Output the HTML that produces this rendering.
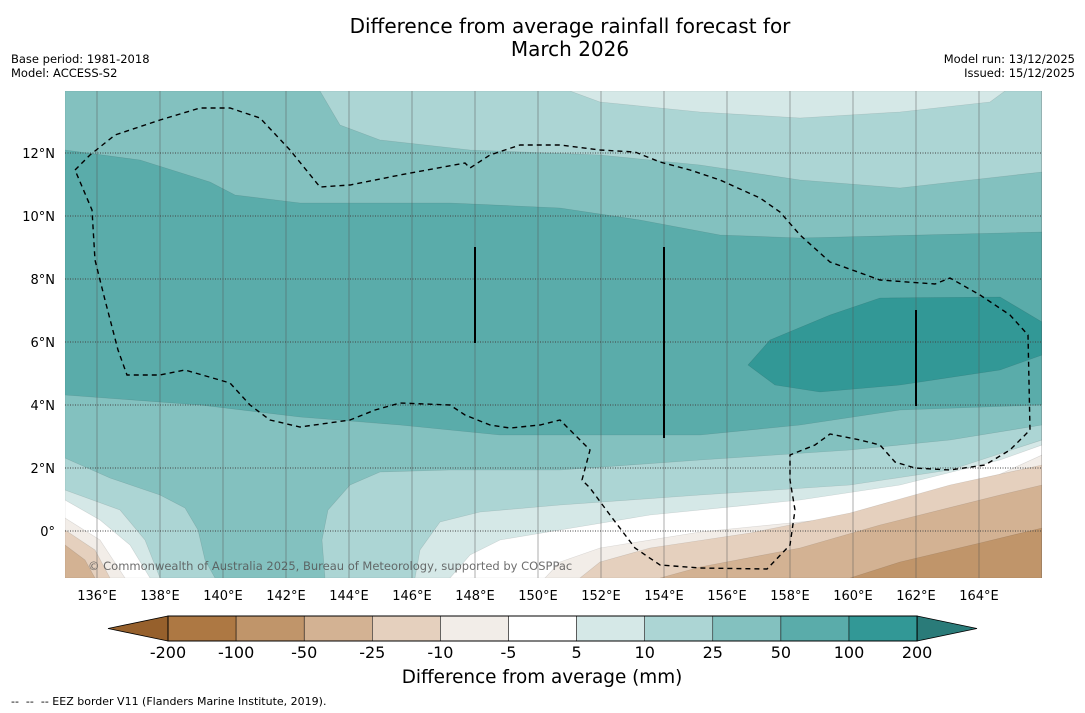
<!DOCTYPE html>
<html><head><meta charset="utf-8"><style>
body{margin:0;background:#fff;font-family:"Liberation Sans","DejaVu Sans",sans-serif;}
#w{position:relative;width:1085px;height:713px;overflow:hidden;}
.t{position:absolute;white-space:nowrap;}
</style></head><body>
<div id="w">
<div class="t" style="left:220px;width:700px;top:15px;text-align:center;font-family:'DejaVu Sans',sans-serif;font-size:20px;line-height:23px;">Difference from average rainfall forecast for<br>March 2026</div>
<div class="t" style="left:11px;top:52px;font-size:11.5px;line-height:14px;font-family:'DejaVu Sans',sans-serif">Base period: 1981-2018<br>Model: ACCESS-S2</div>
<div class="t" style="right:10px;top:52px;font-size:11.5px;line-height:14px;text-align:right;font-family:'DejaVu Sans',sans-serif">Model run: 13/12/2025<br>Issued: 15/12/2025</div>
<svg id="s" width="1085" height="713" style="position:absolute;left:0;top:0">
<defs><clipPath id="c"><rect x="65" y="91" width="977" height="487"/></clipPath></defs>
<g id="map" clip-path="url(#c)"></g>
<g id="cb"></g>
</svg>
<div class="t" style="left:292px;width:500px;text-align:center;top:667px;font-size:18.4px;font-family:'DejaVu Sans',sans-serif">Difference from average (mm)</div>
<div class="t" style="left:11px;top:695px;font-size:11px;font-family:'DejaVu Sans',sans-serif;white-space:pre">--  --  -- EEZ border V11 (Flanders Marine Institute, 2019).</div>
</div>
<script>
const NS="http://www.w3.org/2000/svg";
const levels=["-200","-100","-50","-25","-10","-5","5","10","25","50","100","200"];
const colors=["#ad7843","#c0956a","#d3b293","#e5d0be","#f2ede8","#ffffff","#d5e8e7","#acd5d4","#83c1bf","#5aacaa","#329896"];
const lonTicks=[136,138,140,142,144,146,148,150,152,154,156,158,160,162,164];
const latTicks=[0,2,4,6,8,10,12];
const X=lon=>97+(lon-136)*31.5, Y=lat=>531-lat*31.5;
const map=document.getElementById('map');
function el(tag,attrs,parent){const e=document.createElementNS(NS,tag);for(const k in attrs)e.setAttribute(k,attrs[k]);parent.appendChild(e);return e;}
const regions=[
["#83c1bf","65,91 1042,91 1042,578 65,578"],
["#acd5d4","320,91 340,125 380,140 470,150 600,155 700,165 800,180 900,188 1042,172 1042,91"],
["#d5e8e7","570,91 600,102 700,112 800,118 900,112 990,102 1005,91"],
["#5aacaa","65,150 140,160 210,182 235,195 300,203 450,203 560,208 640,220 720,235 800,238 1042,232 1042,405 900,410 800,425 700,435 500,435 400,425 300,417 200,405 65,395"],
["#329896","748,365 770,340 830,315 880,298 1000,297 1042,322 1042,355 1000,370 900,385 820,392 775,385"],
["#acd5d4","65,458 110,478 160,495 185,508 198,530 205,560 215,578 65,578"],
["#acd5d4","325,578 322,540 328,510 350,485 380,472 450,470 560,470 700,460 850,450 950,440 1042,425 1042,578"],
["#d5e8e7","65,490 120,510 145,540 160,578 65,578"],
["#d5e8e7","415,578 420,550 440,522 480,512 560,505 700,495 850,485 950,470 1042,440 1042,578"],
["#ffffff","65,500 100,520 130,545 150,578 65,578"],
["#ffffff","450,578 470,555 500,540 560,530 650,515 800,500 900,485 1000,460 1042,445 1042,578"],
["#f2ede8","65,518 100,540 125,578 65,578"],
["#f2ede8","545,578 560,562 600,548 700,532 850,517 950,497 1042,455 1042,578"],
["#e5d0be","65,530 95,550 110,578 65,578"],
["#e5d0be","580,578 600,562 650,548 750,533 850,513 950,485 1042,465 1042,578"],
["#d3b293","65,545 85,560 95,578 65,578"],
["#d3b293","660,578 700,567 800,548 880,525 1000,495 1042,485 1042,578"],
["#c0956a","850,578 900,562 980,543 1042,528 1042,578"]
];
regions.forEach((r,i)=>{const p=el('polygon',{points:r[1],fill:r[0],stroke:"rgba(0,0,0,0.12)","stroke-width":0.6},map);

});
lonTicks.concat([166]).forEach(l=>{const g=el('line',{x1:X(l),x2:X(l),y1:91,y2:578,stroke:"#555","stroke-width":0.8,"stroke-opacity":0.6},map);

});
latTicks.forEach(l=>{const g=el('line',{x1:65,x2:1042,y1:Y(l),y2:Y(l),stroke:"#444","stroke-width":0.9,"stroke-dasharray":"1,1.5"},map);

});
const eez=el('polyline',{points:"75,170 90,155 115,135 160,120 200,108 230,108 260,118 290,150 320,187 350,185 400,175 465,163 470,168 490,155 520,145 560,145 600,150 635,152 660,162 690,170 720,180 760,198 780,212 800,235 830,262 880,280 935,284 950,278 980,295 1010,315 1028,335 1030,430 1010,450 985,465 950,470 915,468 895,462 880,445 860,440 830,434 815,445 790,455 790,480 795,510 790,545 767,569 700,568 660,565 635,548 610,515 590,488 582,480 590,450 575,435 560,420 540,425 510,428 490,425 465,415 450,405 400,403 375,410 350,420 300,427 270,420 250,405 230,383 185,370 160,375 127,375 118,350 105,300 95,260 92,210 75,170",fill:"none",stroke:"#000","stroke-width":1.4,"stroke-dasharray":"5,4"},map);


[[475,247,343],[664,247,438],[916,310,406]].forEach(v=>{const l=el('line',{x1:v[0],x2:v[0],y1:v[1],y2:v[2],stroke:"#000","stroke-width":2},map);

});
const cp=el('text',{x:88,y:570,"font-size":11.5,fill:"#555","fill-opacity":0.85,"font-family":"DejaVu Sans, sans-serif"},map);
cp.textContent="© Commonwealth of Australia 2025, Bureau of Meteorology, supported by COSPPac";


const svg=document.getElementById('s');
lonTicks.forEach(l=>{const t=el('text',{x:X(l),y:600,"text-anchor":"middle","font-size":13,"font-family":"DejaVu Sans, sans-serif"},svg);t.textContent=l+"°E";

});
latTicks.forEach(l=>{const t=el('text',{x:55,y:Y(l)+5,"text-anchor":"end","font-size":13,"font-family":"DejaVu Sans, sans-serif"},svg);t.textContent=l===0?"0°":l+"°N";

});
const cb=document.getElementById('cb');
const cx0=168,cw=68.1,cy=616,ch=25;
colors.forEach((c,i)=>{const r=el('rect',{x:cx0+i*cw,y:cy,width:cw,height:ch,fill:c,stroke:"#000","stroke-width":0.5},cb);

});
const lt=el('polygon',{points:`108,628.5 ${cx0},${cy} ${cx0},${cy+ch}`,fill:"#96602c",stroke:"#000","stroke-width":0.8},cb);


const re=cx0+colors.length*cw;
const rt=el('polygon',{points:`${re},${cy} 977,628.5 ${re},${cy+ch}`,fill:"#2a7b79",stroke:"#000","stroke-width":0.8},cb);


el('rect',{x:cx0,y:cy,width:re-cx0,height:ch,fill:"none",stroke:"#000","stroke-width":1},cb);
levels.forEach((v,i)=>{const t=el('text',{x:cx0+i*cw,y:658,"text-anchor":"middle","font-size":16,"font-family":"DejaVu Sans, sans-serif"},cb);t.textContent=v;

});
</script>
</body></html>
